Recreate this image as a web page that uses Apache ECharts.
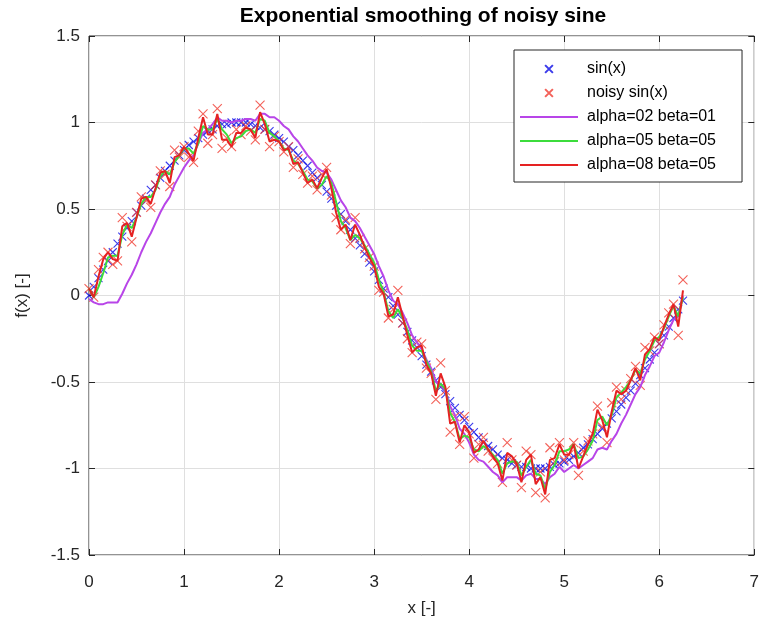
<!DOCTYPE html>
<html>
<head>
<meta charset="utf-8">
<script src="https://cdn.jsdelivr.net/npm/echarts@6/dist/echarts.min.js"></script>
<style>
  html, body { margin: 0; padding: 0; background: #fff; }
  #chart { width: 762px; height: 628px; }
</style>
</head>
<body>
<div id="chart"></div>
<script>
// sample positions
const xs = [
  0.00, 0.05, 0.10, 0.15, 0.20, 0.25, 0.30, 0.35, 0.40, 0.45,
  0.50, 0.55, 0.60, 0.65, 0.70, 0.75, 0.80, 0.85, 0.90, 0.95,
  1.00, 1.05, 1.10, 1.15, 1.20, 1.25, 1.30, 1.35, 1.40, 1.45,
  1.50, 1.55, 1.60, 1.65, 1.70, 1.75, 1.80, 1.85, 1.90, 1.95,
  2.00, 2.05, 2.10, 2.15, 2.20, 2.25, 2.30, 2.35, 2.40, 2.45,
  2.50, 2.55, 2.60, 2.65, 2.70, 2.75, 2.80, 2.85, 2.90, 2.95,
  3.00, 3.05, 3.10, 3.15, 3.20, 3.25, 3.30, 3.35, 3.40, 3.45,
  3.50, 3.55, 3.60, 3.65, 3.70, 3.75, 3.80, 3.85, 3.90, 3.95,
  4.00, 4.05, 4.10, 4.15, 4.20, 4.25, 4.30, 4.35, 4.40, 4.45,
  4.50, 4.55, 4.60, 4.65, 4.70, 4.75, 4.80, 4.85, 4.90, 4.95,
  5.00, 5.05, 5.10, 5.15, 5.20, 5.25, 5.30, 5.35, 5.40, 5.45,
  5.50, 5.55, 5.60, 5.65, 5.70, 5.75, 5.80, 5.85, 5.90, 5.95,
  6.00, 6.05, 6.10, 6.15, 6.20, 6.25
]

const sinVals = [
  0.00, 0.05, 0.10, 0.15, 0.20, 0.25, 0.30, 0.34, 0.39, 0.43,
  0.48, 0.52, 0.56, 0.61, 0.64, 0.68, 0.72, 0.75, 0.78, 0.81,
  0.84, 0.87, 0.89, 0.91, 0.93, 0.95, 0.96, 0.98, 0.99, 0.99,
  1.00, 1.00, 1.00, 1.00, 0.99, 0.98, 0.97, 0.96, 0.95, 0.93,
  0.91, 0.89, 0.86, 0.84, 0.81, 0.78, 0.75, 0.71, 0.68, 0.64,
  0.60, 0.56, 0.52, 0.47, 0.43, 0.38, 0.33, 0.29, 0.24, 0.19,
  0.14, 0.09, 0.04, -0.01, -0.06, -0.11, -0.16, -0.21, -0.26, -0.30,
  -0.35, -0.40, -0.44, -0.49, -0.53, -0.57, -0.61, -0.65, -0.69, -0.72,
  -0.76, -0.79, -0.82, -0.85, -0.87, -0.89, -0.92, -0.94, -0.95, -0.97,
  -0.98, -0.99, -0.99, -1.00, -1.00, -1.00, -1.00, -0.99, -0.98, -0.97,
  -0.96, -0.95, -0.93, -0.91, -0.88, -0.86, -0.83, -0.80, -0.77, -0.74,
  -0.71, -0.67, -0.63, -0.59, -0.55, -0.51, -0.46, -0.42, -0.37, -0.33,
  -0.28, -0.23, -0.18, -0.13, -0.08, -0.03
]

const noisyVals = [
  0.04, -0.01, 0.15, 0.22, 0.25, 0.18, 0.20, 0.45, 0.40, 0.31,
  0.48, 0.57, 0.55, 0.51, 0.64, 0.72, 0.70, 0.63, 0.84, 0.80,
  0.86, 0.80, 0.77, 0.95, 1.05, 0.88, 0.93, 1.08, 0.85, 0.91,
  0.86, 0.96, 0.93, 0.98, 0.95, 0.90, 1.10, 0.96, 0.86, 0.92,
  0.89, 0.83, 0.86, 0.74, 0.79, 0.70, 0.65, 0.69, 0.61, 0.70,
  0.74, 0.58, 0.45, 0.38, 0.44, 0.30, 0.45, 0.33, 0.27, 0.22,
  0.17, 0.03, 0.02, -0.13, -0.08, 0.03, -0.16, -0.25, -0.33, -0.27,
  -0.28, -0.42, -0.45, -0.60, -0.39, -0.55, -0.79, -0.70, -0.86, -0.70,
  -0.80, -0.94, -0.86, -0.82, -0.90, -0.94, -0.97, -1.08, -0.85, -0.95,
  -0.98, -1.11, -0.90, -0.92, -1.14, -1.02, -1.17, -0.88, -0.96, -0.85,
  -0.95, -0.92, -0.85, -1.04, -0.90, -0.84, -0.80, -0.64, -0.76, -0.85,
  -0.62, -0.53, -0.60, -0.55, -0.48, -0.41, -0.52, -0.30, -0.32, -0.24,
  -0.28, -0.17, -0.10, -0.05, -0.23, 0.09
]

// alpha=02 beta=01 (magenta)
const smoothA = [
  -0.02, -0.04, -0.05, -0.05, -0.04, -0.04, -0.04, 0.01, 0.07, 0.12,
  0.18, 0.25, 0.31, 0.36, 0.42, 0.48, 0.53, 0.57, 0.64, 0.69,
  0.74, 0.78, 0.81, 0.88, 0.94, 0.96, 0.99, 1.03, 1.01, 1.01,
  1.00, 1.01, 1.01, 1.02, 1.02, 1.01, 1.05, 1.05, 1.03, 1.03,
  1.01, 0.98, 0.96, 0.92, 0.89, 0.85, 0.81, 0.78, 0.74, 0.72,
  0.71, 0.67, 0.61, 0.55, 0.51, 0.45, 0.43, 0.39, 0.34, 0.29,
  0.24, 0.17, 0.11, 0.03, -0.03, -0.05, -0.10, -0.16, -0.23, -0.27,
  -0.31, -0.37, -0.42, -0.50, -0.51, -0.55, -0.64, -0.69, -0.77, -0.80,
  -0.85, -0.92, -0.95, -0.96, -0.99, -1.02, -1.04, -1.08, -1.05, -1.05,
  -1.05, -1.07, -1.04, -1.03, -1.06, -1.06, -1.09, -1.05, -1.03, -0.99,
  -1.02, -1.00, -0.98, -1.00, -0.98, -0.96, -0.94, -0.89, -0.88, -0.89,
  -0.84, -0.80, -0.74, -0.69, -0.63, -0.57, -0.53, -0.46, -0.41, -0.35,
  -0.33, -0.27, -0.20, -0.14, -0.12, 0.00
]

// alpha=05 beta=05 (green)
const smoothB = [
  0.04, -0.01, 0.05, 0.13, 0.22, 0.23, 0.23, 0.35, 0.41, 0.39,
  0.45, 0.53, 0.57, 0.57, 0.61, 0.69, 0.72, 0.70, 0.77, 0.81,
  0.85, 0.85, 0.82, 0.88, 0.98, 0.96, 0.96, 1.02, 0.96, 0.93,
  0.88, 0.91, 0.92, 0.95, 0.96, 0.94, 1.02, 1.01, 0.94, 0.92,
  0.89, 0.85, 0.84, 0.78, 0.76, 0.72, 0.67, 0.66, 0.62, 0.64,
  0.69, 0.65, 0.54, 0.43, 0.39, 0.32, 0.35, 0.33, 0.29, 0.24,
  0.19, 0.09, 0.02, -0.09, -0.13, -0.08, -0.13, -0.20, -0.29, -0.32,
  -0.32, -0.38, -0.44, -0.55, -0.51, -0.54, -0.68, -0.73, -0.83, -0.81,
  -0.82, -0.89, -0.90, -0.87, -0.89, -0.92, -0.95, -1.03, -0.97, -0.96,
  -0.96, -1.04, -0.99, -0.95, -1.03, -1.04, -1.12, -1.02, -0.98, -0.90,
  -0.90, -0.89, -0.86, -0.94, -0.93, -0.89, -0.84, -0.72, -0.70, -0.75,
  -0.69, -0.59, -0.56, -0.53, -0.49, -0.43, -0.45, -0.37, -0.32, -0.26,
  -0.24, -0.19, -0.12, -0.06, -0.12, -0.01
]

// alpha=08 beta=05 (red)
const smoothC = [
  0.04, -0.01, 0.11, 0.21, 0.25, 0.21, 0.20, 0.40, 0.42, 0.34,
  0.45, 0.56, 0.57, 0.53, 0.62, 0.71, 0.72, 0.65, 0.80, 0.81,
  0.86, 0.82, 0.78, 0.91, 1.03, 0.93, 0.93, 1.05, 0.90, 0.90,
  0.86, 0.94, 0.94, 0.97, 0.96, 0.91, 1.06, 0.99, 0.89, 0.90,
  0.89, 0.84, 0.85, 0.76, 0.77, 0.71, 0.65, 0.67, 0.62, 0.68,
  0.73, 0.62, 0.48, 0.38, 0.41, 0.32, 0.41, 0.35, 0.28, 0.22,
  0.17, 0.05, 0.01, -0.12, -0.11, -0.01, -0.12, -0.23, -0.33, -0.30,
  -0.29, -0.40, -0.45, -0.58, -0.45, -0.53, -0.74, -0.73, -0.85, -0.75,
  -0.79, -0.91, -0.89, -0.84, -0.89, -0.93, -0.97, -1.07, -0.91, -0.93,
  -0.97, -1.08, -0.95, -0.92, -1.09, -1.05, -1.15, -0.95, -0.94, -0.86,
  -0.92, -0.92, -0.86, -1.00, -0.93, -0.86, -0.80, -0.66, -0.72, -0.82,
  -0.67, -0.55, -0.57, -0.55, -0.49, -0.42, -0.49, -0.34, -0.31, -0.24,
  -0.26, -0.18, -0.11, -0.05, -0.18, 0.03
]

const seriesNames = ['sin(x)', 'noisy sin(x)', 'alpha=02 beta=01', 'alpha=05 beta=05', 'alpha=08 beta=05']
const lineColors = ['#b845e8', '#3cdc3c', '#e52222']

const crossPath = 'path://M0,0L10,10M10,0L0,10'
const crossIcon = 'path://M-4,-4M0,0L10,10M10,0L0,10M14,14'
const lineIcon = 'path://M0,0L58,0L58,2L0,2Z'
const axisColor = '#262626'
const fontFamily = 'Liberation Sans, Arial, sans-serif'

const pairs = vals => xs.map((x, i) => [x, vals[i]])

const chart = echarts.init(document.getElementById('chart'), null, { renderer: 'canvas' })

const xBase = { type: 'value', min: 0, max: 7, interval: 1 }
const yBase = { type: 'value', min: -1.5, max: 1.5, interval: 0.5 }
const tick = { inside: true, length: 6, lineStyle: { color: axisColor } }

const option = {
  backgroundColor: '#fff',
  animation: false,
  title: {
    text: 'Exponential smoothing of noisy sine',
    left: 418,
    top: 1,
    textAlign: 'center',
    textStyle: { fontFamily, fontSize: 21, fontWeight: 'bold', color: '#000' }
  },
  grid: {
    left: 89, right: 7, top: 36, bottom: 73,
    show: true, borderColor: axisColor, borderWidth: 1, backgroundColor: '#fff'
  },
  legend: {
    orient: 'vertical',
    left: 514,
    top: 50,
    padding: [11, 26, 9, 6],
    backgroundColor: '#fff',
    borderColor: axisColor,
    borderWidth: 1,
    itemWidth: 58,
    itemHeight: 14,
    itemGap: 8,
    textStyle: { fontFamily, fontSize: 16, color: '#000', padding: [0, 0, 0, 4] },
    data: [
      { name: seriesNames[0], icon: crossIcon },
      { name: seriesNames[1], icon: crossIcon },
      { name: seriesNames[2], icon: lineIcon, itemStyle: { color: lineColors[0] } },
      { name: seriesNames[3], icon: lineIcon, itemStyle: { color: lineColors[1] } },
      { name: seriesNames[4], icon: lineIcon, itemStyle: { color: lineColors[2] } }
    ]
  },
  xAxis: [
    Object.assign({}, xBase, {
      position: 'bottom',
      name: 'x [-]', nameLocation: 'middle', nameGap: 45,
      nameTextStyle: { fontFamily, fontSize: 17, color: axisColor },
      axisLine: { show: false, onZero: false },
      axisTick: tick,
      axisLabel: { fontFamily, fontSize: 17, color: axisColor, margin: 19 },
      splitLine: { show: true, lineStyle: { color: '#dfdfdf', width: 1 } }
    }),
    Object.assign({}, xBase, {
      position: 'top',
      axisLine: { show: false, onZero: false },
      axisTick: tick,
      axisLabel: { show: false },
      splitLine: { show: false }
    })
  ],
  yAxis: [
    Object.assign({}, yBase, {
      position: 'left',
      name: 'f(x) [-]', nameLocation: 'middle', nameGap: 58, nameRotate: 90,
      nameTextStyle: { fontFamily, fontSize: 17, color: axisColor },
      axisLine: { show: false, onZero: false },
      axisTick: tick,
      axisLabel: { fontFamily, fontSize: 17, color: axisColor, margin: 9 },
      splitLine: { show: true, lineStyle: { color: '#dfdfdf', width: 1 } }
    }),
    Object.assign({}, yBase, {
      position: 'right',
      axisLine: { show: false, onZero: false },
      axisTick: tick,
      axisLabel: { show: false },
      splitLine: { show: false }
    })
  ],
  series: [
    {
      name: seriesNames[0], type: 'scatter', data: pairs(sinVals),
      symbol: crossPath, symbolSize: 8,
      itemStyle: { color: 'rgba(0,0,0,0)', borderColor: '#0a0ae6', borderWidth: 1.1 },
      z: 2
    },
    {
      name: seriesNames[1], type: 'scatter', data: pairs(noisyVals),
      symbol: crossPath, symbolSize: 9,
      itemStyle: { color: 'rgba(0,0,0,0)', borderColor: '#f03a30', borderWidth: 1.1 },
      z: 3
    },
    {
      name: seriesNames[2], type: 'line', data: pairs(smoothA),
      symbol: 'none', lineStyle: { color: lineColors[0], width: 2 },
      itemStyle: { color: lineColors[0] }, z: 4
    },
    {
      name: seriesNames[3], type: 'line', data: pairs(smoothB),
      symbol: 'none', lineStyle: { color: lineColors[1], width: 2 },
      itemStyle: { color: lineColors[1] }, z: 5
    },
    {
      name: seriesNames[4], type: 'line', data: pairs(smoothC),
      symbol: 'none', lineStyle: { color: lineColors[2], width: 2 },
      itemStyle: { color: lineColors[2] }, z: 6
    }
  ]
}

chart.setOption(option)
</script>
</body>
</html>
